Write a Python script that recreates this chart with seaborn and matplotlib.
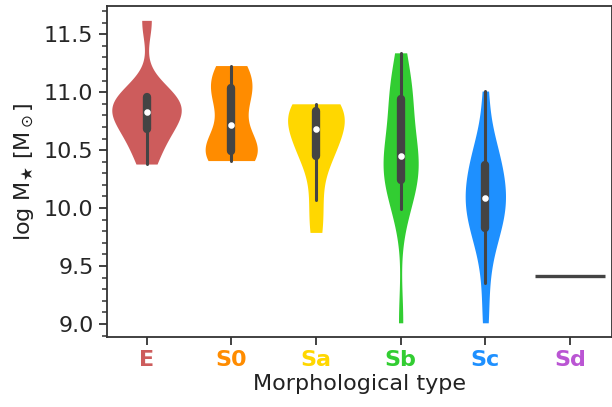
import numpy as np
import pandas as pd
import matplotlib
matplotlib.use("Agg")
import matplotlib.pyplot as plt
import seaborn as sns

# Stellar masses (log M*/Msun) grouped by morphological type
types = ["E", "S0", "Sa", "Sb", "Sc", "Sd"]
mass_E = [10.38, 10.52, 10.63, 10.70, 10.77, 10.81, 10.85, 10.90, 10.95, 10.97, 10.98, 11.62]
mass_S0 = [10.41, 10.45, 10.48, 10.52, 10.60, 10.84, 10.98, 11.05, 11.15, 11.23]
mass_Sa = [9.79, 10.07, 10.40, 10.50, 10.55, 10.68, 10.75, 10.82, 10.85, 10.88, 10.90]
mass_Sb = [9.01, 9.99, 10.10, 10.20, 10.26, 10.32, 10.38, 10.43, 10.47, 10.55, 10.66,
           10.93, 10.97, 11.00, 11.08, 11.34]
mass_Sc = [9.01, 9.35, 9.62, 9.76, 9.80, 9.86, 9.96, 10.00, 10.05, 10.09, 10.13, 10.18,
           10.25, 10.34, 10.40, 10.44, 10.52, 10.68, 11.01]
mass_Sd = [9.41]
type_colors = ["indianred", "darkorange", "gold", "limegreen", "dodgerblue", "mediumorchid"]

groups = [mass_E, mass_S0, mass_Sa, mass_Sb, mass_Sc, mass_Sd]
df = pd.DataFrame({
    "type": np.concatenate([[t] * len(g) for t, g in zip(types, groups)]),
    "logM": np.concatenate(groups),
})

sns.set_style("ticks")
plt.rcParams["font.family"] = ["DejaVu Sans"]

fig = plt.figure(figsize=(6.12, 4.07), dpi=100)
W, H = 612, 407
ax = fig.add_axes([106.7 / W, 1 - 336.7 / H, 505.7 / W, (336.7 - 6) / H])

violin_width = 0.82
box_gray = "#444444"
sns.violinplot(
    data=df, x="type", y="logM", hue="type", order=types, hue_order=types,
    palette=type_colors, saturation=1, cut=0, inner="box", linewidth=0,
    bw_adjust=0.85, density_norm="area", common_norm=True, width=violin_width,
    legend=False, ax=ax,
    inner_kws=dict(box_width=6, whis_width=2.2, marker="o", markersize=3.5,
                   color=box_gray),
)

# A type with a single galaxy has no density estimate: mark its value with a line
for i, g in enumerate(groups):
    if len(g) == 1:
        ax.hlines(g[0], i - violin_width / 2, i + violin_width / 2,
                  color=box_gray, lw=2.4)

ax.set_xlim(-0.47, 5.5)
ax.set_ylim(8.89, 11.744)
ax.set_yticks([9.0, 9.5, 10.0, 10.5, 11.0, 11.5])
ax.set_yticks(np.arange(8.9, 11.75, 0.1), minor=True)
ax.tick_params(axis="both", which="major", length=6, width=1.3, labelsize=16, color="#333333")
ax.tick_params(axis="y", which="minor", length=3.5, width=1.1, color="#333333")
for s in ax.spines.values():
    s.set_linewidth(1.3)
    s.set_color("#333333")

for lbl, c in zip(ax.get_xticklabels(), type_colors):
    lbl.set_color(c)
    lbl.set_fontweight("bold")

ax.set_xlabel("Morphological type", fontsize=16, color="#222222", labelpad=3)
ax.set_ylabel(r"log M$_\bigstar$ [M$_\odot$]", fontsize=16, color="#222222", labelpad=6)

fig.savefig("out.png", dpi=100)
